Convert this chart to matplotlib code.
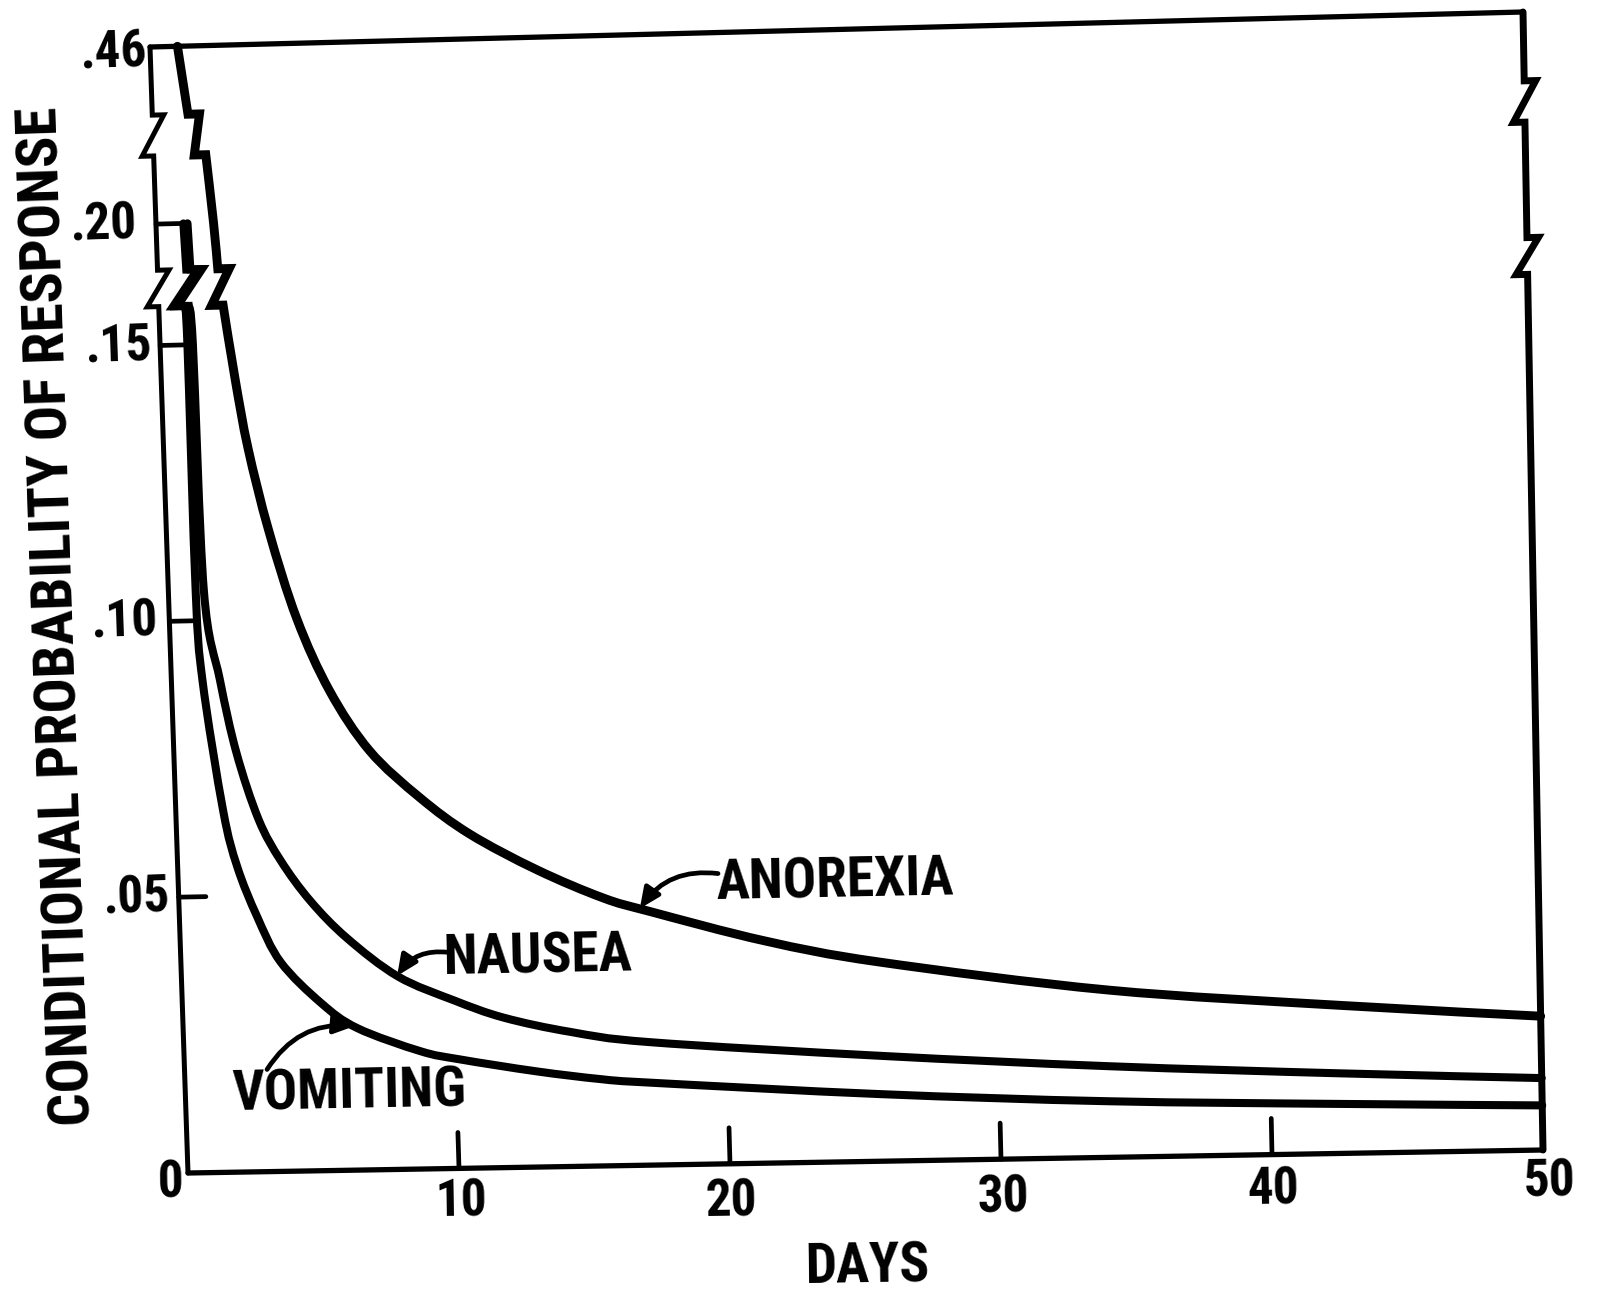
import os
import numpy as np
import matplotlib
matplotlib.use("Agg")
import matplotlib.pyplot as plt
from matplotlib import font_manager
from matplotlib.font_manager import FontProperties
from matplotlib.patches import PathPatch
from matplotlib.path import Path
from matplotlib.transforms import Transform

# days after exposure vs conditional probability of response
anorexia_days = [1.0, 1.3, 1.9, 2.1, 2.2, 2.35, 2.7, 3.09, 3.75, 4.67, 5.79, 7.19, 8.97,
                 10.77, 13.2, 15.6, 17.3, 21.5, 25.7, 34.1, 42.6, 50.0]
anorexia_prob = [0.46, 0.36, 0.30, 0.20, 0.181, 0.166, 0.1436, 0.131, 0.116, 0.100, 0.0868,
                 0.0758, 0.0672, 0.0604, 0.0537, 0.0484, 0.0458, 0.0401, 0.0359, 0.0301,
                 0.0266, 0.0240]

nausea_days = [1.15, 1.2, 1.1, 1.2, 1.3, 1.78, 2.30, 3.03, 3.79, 4.83, 6.14, 7.97, 10.0,
               11.82, 14.27, 17.18, 25.64, 34.05, 42.5, 50.0]
nausea_prob = [0.20, 0.181, 0.166, 0.15, 0.1055, 0.0892, 0.0759, 0.0638, 0.0563, 0.0489,
               0.0420, 0.0349, 0.0304, 0.0271, 0.0243, 0.0222, 0.0190, 0.0164, 0.0144,
               0.0129]

vomiting_days = [1.0, 1.05, 0.95, 1.0, 1.0, 1.14, 1.74, 2.19, 2.86, 3.67, 5.1, 6.41, 8.72,
                 10.16, 12.96, 15.3, 17.12, 25.6, 34.0, 42.5, 50.0]
vomiting_prob = [0.20, 0.181, 0.166, 0.15, 0.1055, 0.0892, 0.0655, 0.0553, 0.0462, 0.0379,
                 0.0304, 0.0257, 0.0213, 0.0197, 0.0173, 0.0157, 0.0149, 0.0121, 0.0101,
                 0.0089, 0.0080]

x_ticks = [0, 10, 20, 30, 40, 50]
y_ticks = [0.46, 0.20, 0.15, 0.10, 0.05]

# broken probability axis: value -> drawn height
BREAK_VALUES = [0.0, 0.15, 0.20, 0.46]
BREAK_HEIGHTS = [0.0, 0.15, 0.172, 0.2041]
BREAKS = [(0.166, 0.181), (0.30, 0.36)]
ZIG = 0.42          # sideways reach of a break mark, in days

# hand-drawn sheet: where the frame corners land (px from top-left: BL, BR, TL, TR)
SHEET_CORNERS = [(188, 1173), (1543, 1150), (150, 47), (1523, 12)]
W_PX, H_PX = 1597, 1294

_top_slope = (BREAK_HEIGHTS[-1] - BREAK_HEIGHTS[-2]) / (BREAK_VALUES[-1] - BREAK_VALUES[-2])


def to_height(v):
    v = np.asarray(v, dtype=float)
    h = np.interp(v, BREAK_VALUES, BREAK_HEIGHTS)
    h = np.where(v < 0, v, h)
    h = np.where(v > BREAK_VALUES[-1], BREAK_HEIGHTS[-1] + (v - BREAK_VALUES[-1]) * _top_slope, h)
    return h


def from_height(h):
    h = np.asarray(h, dtype=float)
    v = np.interp(h, BREAK_HEIGHTS, BREAK_VALUES)
    v = np.where(h < 0, h, v)
    v = np.where(h > BREAK_HEIGHTS[-1], BREAK_VALUES[-1] + (h - BREAK_HEIGHTS[-1]) / _top_slope, v)
    return v


class SheetWarp(Transform):
    """Bilinear map of the plot rectangle onto a slightly skewed quadrilateral."""
    input_dims = output_dims = 2
    is_separable = False
    has_inverse = False

    def __init__(self, rect, quad):
        super().__init__()
        self.rect = rect
        self.quad = np.asarray(quad, dtype=float)

    def transform_non_affine(self, xy):
        xy = np.atleast_2d(np.asarray(xy, dtype=float))
        x0, y0, w, h = self.rect
        u = ((xy[:, 0] - x0) / w)[:, None]
        v = ((xy[:, 1] - y0) / h)[:, None]
        bl, br, tl, tr = self.quad
        return (1 - u) * (1 - v) * bl + u * (1 - v) * br + (1 - u) * v * tl + u * v * tr


def zigzag_path(days, probs):
    """Polyline with a break mark cut in wherever it crosses a scale break."""
    days = np.asarray(days, dtype=float)
    probs = np.asarray(probs, dtype=float)
    h = to_height(probs)
    keep = np.ones(len(probs), dtype=bool)
    marks = []
    for lo, hi in BREAKS:
        if probs.max() < hi or probs.min() > lo:
            continue
        x_hi = np.interp(to_height(hi), h[::-1], days[::-1])
        x_lo = np.interp(to_height(lo), h[::-1], days[::-1])
        keep &= ~((probs >= lo) & (probs <= hi))
        marks += [(x_hi, hi, True), (x_hi + ZIG, hi, True), (x_lo - ZIG, lo, True), (x_lo, lo, True)]
    pts = [(d, p, False) for d, p, k in zip(days, probs, keep) if k] + marks
    pts.sort(key=lambda q: -q[1])
    return pts


def pen_path(pts):
    """Straight through break marks, smooth (Catmull-Rom Beziers) elsewhere."""
    xy = np.array([(d, float(to_height(p))) for d, p, _ in pts])
    sharp = [m for _, _, m in pts]
    verts, codes = [xy[0]], [Path.MOVETO]
    n = len(xy)
    for i in range(n - 1):
        a, b = xy[i], xy[i + 1]
        if sharp[i] and sharp[i + 1]:
            verts.append(b)
            codes.append(Path.LINETO)
            continue
        prev = xy[i - 1] if i > 0 and not sharp[i] else a
        nxt = xy[i + 2] if i + 2 < n and not sharp[i + 1] else b
        verts += [a + (b - prev) / 6.0, b - (nxt - a) / 6.0, b]
        codes += [Path.CURVE4] * 3
    verts = np.array(verts)
    verts[:, 1] = from_height(verts[:, 1])
    return Path(verts, codes)


# lettering: a narrow bold sans if one is installed
CONDENSED = ["liberationsansnarrow-bold", "notosans-condensedbold", "robotocondensed-bold",
             "roboto-condensedbold", "opensans-condbold"]
files = {os.path.splitext(os.path.basename(f.fname))[0].lower(): f.fname
         for f in font_manager.fontManager.ttflist}
narrow = next((files[k] for k in CONDENSED if k in files), None)
if narrow:
    LETTERING, TXT, NAME, TITLE = FontProperties(fname=narrow), 37, 40, 42
else:
    LETTERING, TXT, NAME, TITLE = FontProperties(family="Liberation Sans", weight="bold"), 33, 33, 34.5

fig = plt.figure(figsize=(W_PX / 100, H_PX / 100), dpi=100, facecolor="white")
ax = fig.add_axes([0, 0, 1, 1])
ax.set_yscale("function", functions=(to_height, from_height))
ax.set_xlim(-6.937, 51.993)
ax.set_ylim(float(from_height(-0.021933)), float(from_height(0.21262)))
ax.axis("off")

x0, y0 = ax.transData.transform((0, 0))
x1, y1 = ax.transData.transform((50, 0.46))
quad = [(cx, H_PX - cy) for cx, cy in SHEET_CORNERS]
sheet = ax.transData + SheetWarp((x0, y0, x1 - x0, y1 - y0), quad)


def ink(xs, ys, lw):
    ax.plot(xs, ys, color="black", lw=lw, transform=sheet, clip_on=False,
            solid_capstyle="round", solid_joinstyle="miter")


def curve(days, probs, lw):
    ax.add_patch(PathPatch(pen_path(zigzag_path(days, probs)), fill=False, ec="black",
                           lw=lw, capstyle="round", joinstyle="miter", transform=sheet,
                           clip_on=False))


def letter(x, y, s, size=TXT, rot=1.1, **kw):
    fp = LETTERING.copy()
    fp.set_size(size)
    ax.text(x, y, s, transform=sheet, fontproperties=fp, rotation=rot,
            rotation_mode="anchor", ha=kw.pop("ha", "center"), va=kw.pop("va", "center"), **kw)


# frame with broken verticals
for side, lw in ((0, 3.6), (50, 5.0)):
    pts = zigzag_path([side, side], [0.46, 0.0])
    ink([q[0] for q in pts], [q[1] for q in pts], lw=lw)
ink([0, 50], [0.46, 0.46], lw=3.8)
ink([0, 50], [0.0, 0.0], lw=3.8)

# inward ticks
ytick_len = [0, 1.05, 0.9, 0.85, 1.0]
for v, length in zip(y_ticks, ytick_len):
    if length:
        ink([0, length], [v, v], lw=3.4)
for d in x_ticks[1:-1]:
    ink([d, d], [0, 0.0065], lw=3.4)

# tick labels
ylab_day = [-0.09, -0.69, -0.29, -0.42, -0.32]
ylab_at = [0.4529, 0.20, 0.15, 0.10, 0.05]
for v, d, at in zip(y_ticks, ylab_day, ylab_at):
    letter(d, at, f"{v:.2f}".lstrip("0"), ha="right", rot=1.9)

xlab_day = [-0.68, 10.04, 20.01, 30.05, 40.02, 50.2]
xlab_at = [-0.0019, -0.0061, -0.0069, -0.0070, -0.0063, -0.0057]
for d, ld, at in zip(x_ticks, xlab_day, xlab_at):
    letter(ld, at, str(d), rot=0.9)

letter(25.0, -0.0192, "DAYS", size=NAME, rot=0.9)
letter(-4.08, 0.1014, "CONDITIONAL PROBABILITY OF RESPONSE", size=TITLE, rot=91.9)

# response curves
curve(anorexia_days, anorexia_prob, lw=6.4)
curve(nausea_days, nausea_prob, lw=5.8)
curve(vomiting_days, vomiting_prob, lw=5.8)

# curve names with pointer arrows
labels = {
    "ANOREXIA": (anorexia_days, anorexia_prob, (24.15, 0.0505), (19.85, 0.0524), 16.94, 0.3),
    "NAUSEA": (nausea_days, nausea_prob, (13.14, 0.0379), (9.84, 0.0391), 7.94, 0.3),
    "VOMITING": (vomiting_days, vomiting_prob, (6.04, 0.0140), (3.04, 0.0185), 6.31, -0.3),
}
for name, (days, probs, text_at, tail, tip_day, bend) in labels.items():
    letter(*text_at, name, size=NAME)
    tip = (tip_day, float(np.interp(tip_day, days, probs)))
    ax.annotate("", xy=tip, xycoords=sheet, xytext=tail, textcoords=sheet,
                arrowprops=dict(arrowstyle="-|>,head_length=0.55,head_width=0.25",
                                connectionstyle=f"arc3,rad={bend}", color="black",
                                lw=3.4, shrinkA=0, shrinkB=0, mutation_scale=22))

fig.savefig("out.png", dpi=100, facecolor="white")
